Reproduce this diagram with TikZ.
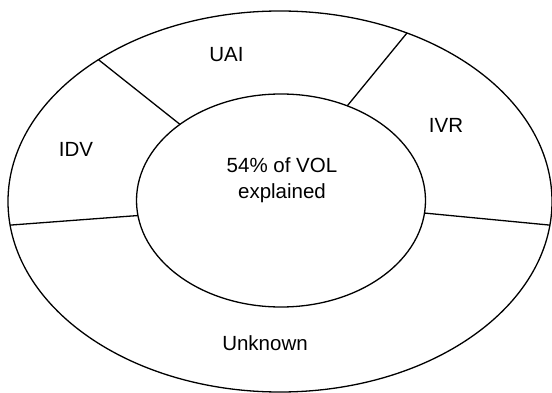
\documentclass[tikz,border=0pt]{standalone}
\usepackage{fontspec}
\setmainfont{Liberation Sans}
\usetikzlibrary{shapes.geometric}
\begin{document}
\begin{tikzpicture}[x=1pt,y=-1pt,
  ring/.style={draw=black,line width=1.3pt,ellipse,inner sep=0pt,outer sep=0pt},
  divider/.style={draw=black,line width=1.3pt},
  lbl/.style={inner sep=0pt,font=\fontsize{20.5}{26}\selectfont,align=center}]
\useasboundingbox (0,0) rectangle (552,393);
\node[ring,minimum width=544pt,minimum height=381pt] (outer) at (280,201.5) {};
\node[ring,minimum width=289pt,minimum height=213pt] (inner) at (281,200.5) {};
\draw[divider] (inner.143.5) -- (outer.142.5);
\draw[divider] (inner.55.9) -- (outer.53.6);
\draw[divider] (inner.186.2) -- (outer.185.4);
\draw[divider] (inner.-5.75) -- (outer.-5.4);
\node[lbl] (uai) at (226.5,55) {UAI};
\node[lbl] (ivr) at (446,125) {IVR};
\node[lbl] (idv) at (76,149) {IDV};
\node[lbl] (unk) at (265,343) {Unknown};
\node[lbl] (ctr) at (282,180) {54\% of VOL\\explained};
\end{tikzpicture}
\end{document}
